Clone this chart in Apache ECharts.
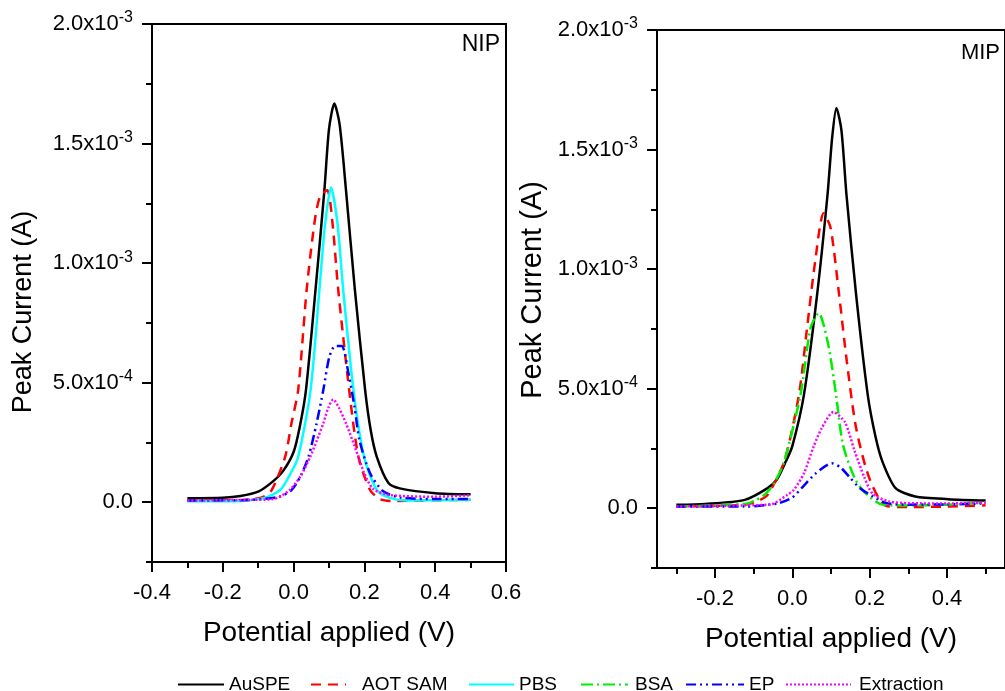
<!DOCTYPE html>
<html>
<head>
<meta charset="utf-8">
<script src="https://cdn.jsdelivr.net/npm/echarts@6/dist/echarts.min.js"></script>
<style>
html,body{margin:0;padding:0;background:#fff;}
#chart{width:1005px;height:691px;}
</style>
</head>
<body>
<div id="chart"></div>
<script>
// ---------- tick definitions ----------
const xTicksNIP = [-0.4, -0.2, 0, 0.2, 0.4, 0.6];
const xLabelsNIP = ['-0.4', '-0.2', '0.0', '0.2', '0.4', '0.6'];
const xMinorNIP = [-0.3, -0.1, 0.1, 0.3, 0.5];
const xTicksMIP = [-0.2, 0, 0.2, 0.4];
const xLabelsMIP = ['-0.2', '0.0', '0.2', '0.4'];
const xMinorMIP = [-0.3, -0.1, 0.1, 0.3, 0.5];
const yTicks = [0, 5e-4, 1e-3, 1.5e-3, 2e-3];
const yLabels = ['0.0', '5.0x10^-4', '1.0x10^-3', '1.5x10^-3', '2.0x10^-3'];
const yMinor = [-2.5e-4, 2.5e-4, 7.5e-4, 1.25e-3, 1.75e-3];

const seriesNames = ['AuSPE', 'AOT SAM', 'PBS', 'BSA', 'EP', 'Extraction'];

// ---------- NIP panel data [potential (V), current (A)] ----------
const nipAuSPE = [[-0.30,1.7e-5],[-0.20,1.9e-5],[-0.15,2.6e-5],[-0.10,4.4e-5],[-0.06,8.5e-5],[-0.03,1.3e-4],[0.0,2.1e-4],[0.018,3.2e-4],[0.035,4.7e-4],[0.062,8.9e-4],[0.087,1.305e-3],[0.100,1.56e-3],[0.115,1.667e-3],[0.130,1.58e-3],[0.148,1.305e-3],[0.173,8.9e-4],[0.202,4.7e-4],[0.218,3.0e-4],[0.235,1.9e-4],[0.268,8.0e-5],[0.30,5.8e-5],[0.40,3.8e-5],[0.50,3.3e-5]];
const nipAOT = [[-0.30,7e-6],[-0.17,7e-6],[-0.09,2.0e-5],[-0.062,5.1e-5],[-0.024,1.9e-4],[-0.006,3.3e-4],[0.013,4.7e-4],[0.037,8.9e-4],[0.060,1.18e-3],[0.075,1.28e-3],[0.095,1.305e-3],[0.110,1.165e-3],[0.126,8.9e-4],[0.157,4.7e-4],[0.183,1.9e-4],[0.216,5.1e-5],[0.244,1.3e-5],[0.28,5e-6],[0.40,8e-6],[0.50,1.0e-5]];
const nipPBS = [[-0.30,4e-6],[-0.17,4e-6],[-0.085,1.7e-5],[-0.038,5.1e-5],[-0.012,1.1e-4],[0.013,1.9e-4],[0.048,4.7e-4],[0.073,8.9e-4],[0.089,1.165e-3],[0.106,1.316e-3],[0.124,1.165e-3],[0.140,8.9e-4],[0.169,4.7e-4],[0.199,1.9e-4],[0.235,5.1e-5],[0.272,1.8e-5],[0.32,7e-6],[0.50,1.0e-5]];
const nipEP = [[-0.30,7e-6],[-0.12,1.0e-5],[-0.04,2.3e-5],[-0.006,5.1e-5],[0.020,1.1e-4],[0.042,1.9e-4],[0.065,3.3e-4],[0.084,4.7e-4],[0.101,6.08e-4],[0.117,6.53e-4],[0.136,6.53e-4],[0.155,5.39e-4],[0.172,4.0e-4],[0.186,2.6e-4],[0.216,1.21e-4],[0.253,4.6e-5],[0.30,2.0e-5],[0.40,1.3e-5],[0.50,1.3e-5]];
const nipExtraction = [[-0.30,7e-6],[-0.12,1.0e-5],[-0.057,1.3e-5],[-0.011,5.1e-5],[0.020,1.1e-4],[0.047,1.9e-4],[0.066,2.6e-4],[0.084,3.3e-4],[0.098,3.95e-4],[0.112,4.30e-4],[0.128,3.95e-4],[0.148,3.3e-4],[0.166,2.6e-4],[0.183,1.9e-4],[0.200,1.2e-4],[0.225,5.5e-5],[0.272,3.0e-5],[0.40,2.3e-5],[0.50,2.9e-5]];

// ---------- MIP panel data ----------
const mipAuSPE = [[-0.30,1.4e-5],[-0.225,1.8e-5],[-0.123,3.5e-5],[-0.064,8.4e-5],[-0.040,1.2e-4],[-0.017,1.95e-4],[0.0,2.6e-4],[0.030,4.74e-4],[0.064,8.92e-4],[0.091,1.311e-3],[0.103,1.55e-3],[0.114,1.674e-3],[0.127,1.58e-3],[0.140,1.311e-3],[0.165,8.92e-4],[0.195,4.74e-4],[0.215,3.0e-4],[0.233,1.95e-4],[0.267,8.4e-5],[0.318,4.9e-5],[0.403,3.8e-5],[0.50,3.2e-5]];
const mipAOT = [[-0.30,7e-6],[-0.123,1.4e-5],[-0.090,3.0e-5],[-0.064,5.6e-5],[-0.021,1.95e-4],[0.017,4.74e-4],[0.038,7.53e-4],[0.059,1.032e-3],[0.081,1.234e-3],[0.099,1.172e-3],[0.121,8.92e-4],[0.141,6.13e-4],[0.165,3.35e-4],[0.199,1.26e-4],[0.242,1.0e-5],[0.30,5e-6],[0.40,7e-6],[0.50,1.2e-5]];
const mipBSA = [[-0.30,7e-6],[-0.123,1.8e-5],[-0.10,3.0e-5],[-0.072,5.6e-5],[-0.047,1.05e-4],[-0.021,1.95e-4],[0.021,4.74e-4],[0.047,7.53e-4],[0.068,8.16e-4],[0.093,6.83e-4],[0.113,4.74e-4],[0.131,2.65e-4],[0.161,1.26e-4],[0.185,7.0e-5],[0.233,1.5e-5],[0.30,1.1e-5],[0.40,1.5e-5],[0.50,2.3e-5]];
const mipEP = [[-0.30,7e-6],[-0.123,7e-6],[-0.038,2.0e-5],[0.0,4.5e-5],[0.030,9.5e-5],[0.060,1.45e-4],[0.102,1.88e-4],[0.125,1.7e-4],[0.148,1.3e-4],[0.174,8.5e-5],[0.208,5.0e-5],[0.242,2.2e-5],[0.30,1.5e-5],[0.40,1.6e-5],[0.50,2.0e-5]];
const mipExtraction = [[-0.30,7e-6],[-0.123,1.2e-5],[-0.055,1.6e-5],[-0.013,5.6e-5],[0.004,7.7e-5],[0.030,1.46e-4],[0.055,2.58e-4],[0.076,3.35e-4],[0.106,4.02e-4],[0.136,3.6e-4],[0.161,2.4e-4],[0.186,1.3e-4],[0.208,6.0e-5],[0.250,2.8e-5],[0.30,2.1e-5],[0.40,2.0e-5],[0.50,2.3e-5]];

// ---------- styles ----------
const FONT = "'Liberation Sans', Arial, sans-serif";
const styles = {
  'AuSPE':      {color:'#000000', type:'solid'},
  'AOT SAM':    {color:'#ff0000', type:[10,7]},
  'PBS':        {color:'#00ffff', type:'solid'},
  'BSA':        {color:'#00ee00', type:[12,4,2,4]},
  'EP':         {color:'#0000ff', type:[10,4,2,4,2,4]},
  'Extraction': {color:'#ff00ff', type:[2,2]}
};
// legend layout per item: [left, icon width, extra text gap]
const legendLayout = {
  'AuSPE':      [177, 46, 0],
  'AOT SAM':    [310, 35, 11],
  'PBS':        [468, 45, 0],
  'BSA':        [580, 47, 2],
  'EP':         [685, 58, 0],
  'Extraction': [785, 65, 3]
};

function lookup(vals, labs, v) {
  for (let i = 0; i < vals.length; i++) if (Math.abs(vals[i] - v) < 1e-9) return labs[i];
  return '';
}

function mainX(grid, min, max, ticks, labels) {
  return {
    type:'value', gridIndex:grid, min:min, max:max, position:'bottom',
    axisLine:{show:true, onZero:false, lineStyle:{color:'#000', width:2}},
    axisTick:{show:true, customValues:ticks, length:10, lineStyle:{color:'#000', width:2}},
    axisLabel:{show:true, customValues:ticks, margin:20, fontSize:22, fontFamily:FONT, color:'#000',
      formatter:(v)=>lookup(ticks, labels, v)},
    splitLine:{show:false},
    name:'Potential applied (V)', nameLocation:'middle', nameGap:57,
    nameTextStyle:{fontSize:28, fontFamily:FONT, color:'#000'}
  };
}
function minorX(grid, min, max, ticks) {
  return {
    type:'value', gridIndex:grid, min:min, max:max, position:'bottom',
    axisLine:{show:false, onZero:false},
    axisTick:{show:true, customValues:ticks, length:6, lineStyle:{color:'#000', width:2}},
    axisLabel:{show:false}, splitLine:{show:false}
  };
}
function mainY(grid) {
  return {
    type:'value', gridIndex:grid, min:-2.5e-4, max:2e-3, position:'left',
    axisLine:{show:true, onZero:false, lineStyle:{color:'#000', width:2}},
    axisTick:{show:true, customValues:yTicks, length:10, lineStyle:{color:'#000', width:2}},
    axisLabel:{show:true, customValues:yTicks, margin:19, fontSize:22, fontFamily:FONT, color:'#000',
      formatter:(v)=>{
        const lab = lookup(yTicks, yLabels, v);
        if (lab.indexOf('^') < 0) return lab;
        const parts = lab.split('^');
        return '{m|' + parts[0] + '}{e|' + parts[1] + '}';
      },
      rich:{
        m:{fontSize:22, fontFamily:FONT, color:'#000', lineHeight:28},
        e:{fontSize:16, fontFamily:FONT, color:'#000', lineHeight:16, verticalAlign:'top'}
      }
    },
    splitLine:{show:false}
  };
}
function minorY(grid) {
  return {
    type:'value', gridIndex:grid, min:-2.5e-4, max:2e-3, position:'left',
    axisLine:{show:false, onZero:false},
    axisTick:{show:true, customValues:yMinor, length:6, lineStyle:{color:'#000', width:2}},
    axisLabel:{show:false}, splitLine:{show:false}
  };
}

function mkSeries(name, data, xi, yi) {
  const s = styles[name];
  return {
    name:name, type:'line', xAxisIndex:xi, yAxisIndex:yi, data:data,
    symbol:'none', smooth:0.25, animation:false,
    lineStyle:{color:s.color, width:2.5, type:s.type},
    itemStyle:{color:s.color}
  };
}

const legends = seriesNames.map(n => {
  const L = legendLayout[n];
  return {
    data:[n], left:L[0], top:675, orient:'horizontal', padding:0,
    itemWidth:L[1], itemHeight:14, itemGap:0,
    itemStyle:{opacity:0},
    textStyle:{fontSize:19, fontFamily:FONT, color:'#000', padding:[0,0,0,L[2]]}
  };
});

const chart = echarts.init(document.getElementById('chart'), null, {renderer:'canvas'});
const option = {
  backgroundColor:'#fff',
  animation:false,
  grid:[
    {left:152, top:24, width:354, height:538, show:true, borderColor:'#000', borderWidth:2, backgroundColor:'transparent'},
    {left:657, top:30, width:354, height:538, show:true, borderColor:'#000', borderWidth:2, backgroundColor:'transparent'}
  ],
  xAxis:[
    mainX(0, -0.4, 0.6, xTicksNIP, xLabelsNIP),
    minorX(0, -0.4, 0.6, xMinorNIP),
    mainX(1, -0.35, 0.55, xTicksMIP, xLabelsMIP),
    minorX(1, -0.35, 0.55, xMinorMIP)
  ],
  yAxis:[ mainY(0), minorY(0), mainY(1), minorY(1) ],
  legend:legends,
  graphic:[
    {type:'text', x:24, y:312, rotation:Math.PI/2,
      style:{text:'Peak Current (A)', fontSize:27, fontFamily:FONT, fill:'#000', textAlign:'center', textVerticalAlign:'middle', align:'center', verticalAlign:'middle'}},
    {type:'text', x:533, y:290, rotation:Math.PI/2,
      style:{text:'Peak Current (A)', fontSize:29, fontFamily:FONT, fill:'#000', textAlign:'center', textVerticalAlign:'middle', align:'center', verticalAlign:'middle'}},
    {type:'text', x:500, y:33,
      style:{text:'NIP', fontSize:23, fontFamily:FONT, fill:'#000', textAlign:'right', textVerticalAlign:'top', align:'right', verticalAlign:'top'}},
    {type:'text', x:1000, y:42,
      style:{text:'MIP', fontSize:22, fontFamily:FONT, fill:'#000', textAlign:'right', textVerticalAlign:'top', align:'right', verticalAlign:'top'}}
  ],
  series:[
    mkSeries('AuSPE', nipAuSPE, 0, 0),
    mkSeries('AOT SAM', nipAOT, 0, 0),
    mkSeries('PBS', nipPBS, 0, 0),
    mkSeries('EP', nipEP, 0, 0),
    mkSeries('Extraction', nipExtraction, 0, 0),
    mkSeries('AuSPE', mipAuSPE, 2, 2),
    mkSeries('AOT SAM', mipAOT, 2, 2),
    mkSeries('BSA', mipBSA, 2, 2),
    mkSeries('EP', mipEP, 2, 2),
    mkSeries('Extraction', mipExtraction, 2, 2)
  ]
};
chart.setOption(option);
</script>
</body>
</html>
